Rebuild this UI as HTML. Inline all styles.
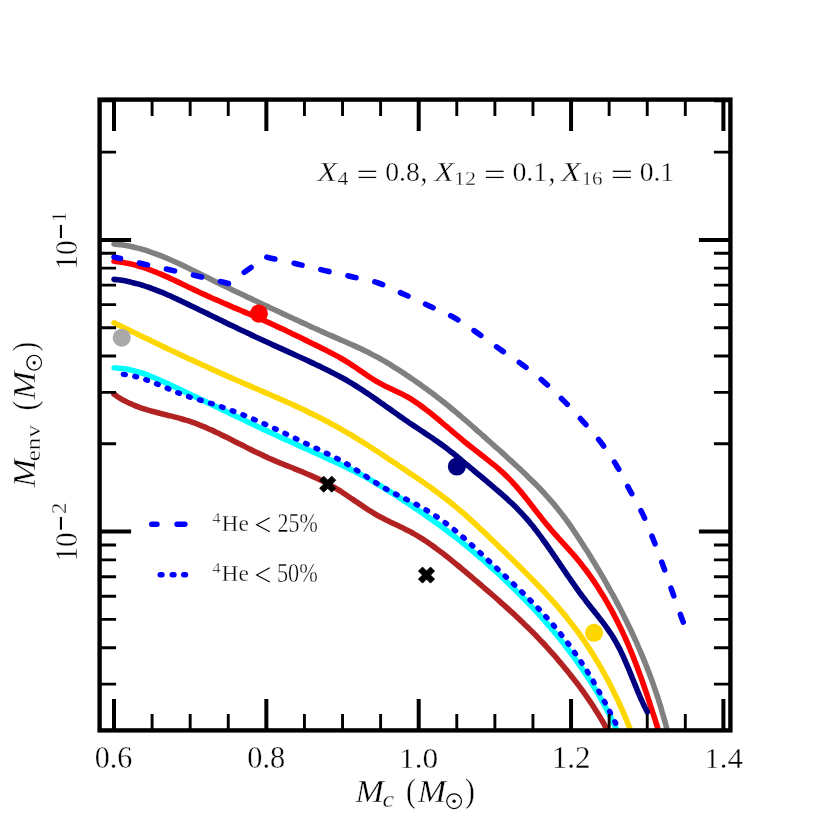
<!DOCTYPE html>
<html><head><meta charset="utf-8"><title>plot</title>
<style>html,body{margin:0;padding:0;background:#fff}body{width:830px;height:830px;position:relative;overflow:hidden;font-family:"Liberation Serif",serif}</style>
</head><body>
<svg width="830" height="830" viewBox="0 0 830 830" style="position:absolute;left:0;top:0;will-change:transform">
<defs><clipPath id="ax"><rect x="99.6" y="99.6" width="630.8" height="630.8"/></clipPath></defs>
<g clip-path="url(#ax)" fill="none" stroke-linecap="round" stroke-linejoin="round" stroke-width="5.6">
<path d="M114.0,244.0C115.0,244.1 118.0,244.4 120.0,244.6C122.0,244.9 124.0,245.2 126.0,245.5C128.0,245.9 129.9,246.3 131.9,246.7C133.9,247.1 135.8,247.6 137.7,248.1C139.7,248.6 141.6,249.1 143.6,249.7C145.5,250.3 147.4,250.9 149.3,251.6C151.2,252.2 153.2,252.9 155.1,253.6C157.0,254.3 158.9,255.0 160.7,255.7C162.6,256.5 164.5,257.2 166.4,258.0C168.3,258.8 170.1,259.6 172.0,260.5C173.9,261.3 175.7,262.1 177.6,263.0C179.5,263.9 181.3,264.7 183.2,265.6C185.0,266.5 186.9,267.4 188.7,268.3C190.5,269.2 192.4,270.1 194.2,271.0C196.1,271.9 197.9,272.8 199.7,273.8C201.5,274.7 203.4,275.6 205.2,276.5C207.0,277.4 208.8,278.3 210.7,279.2C212.5,280.1 214.3,281.0 216.1,281.9C217.9,282.8 219.7,283.7 221.6,284.6C223.4,285.5 225.2,286.4 227.0,287.3C228.8,288.1 230.6,289.0 232.4,289.9C234.2,290.8 236.1,291.6 237.9,292.5C239.7,293.4 241.5,294.2 243.3,295.1C245.1,296.0 246.9,296.8 248.7,297.7C250.6,298.5 252.4,299.4 254.2,300.3C256.0,301.1 257.8,302.0 259.6,302.8C261.5,303.7 263.3,304.5 265.1,305.4C266.9,306.2 268.8,307.1 270.6,308.0C272.4,308.8 274.3,309.7 276.1,310.5C277.9,311.4 279.8,312.2 281.6,313.1C283.5,313.9 285.3,314.8 287.2,315.7C289.0,316.5 290.9,317.4 292.7,318.2C294.6,319.1 296.4,319.9 298.3,320.8C300.2,321.7 302.0,322.5 303.9,323.4C305.7,324.2 307.6,325.1 309.5,325.9C311.3,326.8 313.2,327.6 315.1,328.5C316.9,329.3 318.8,330.1 320.7,331.0C322.5,331.8 324.4,332.6 326.2,333.5C328.1,334.3 330.0,335.1 331.8,335.9C333.7,336.8 335.5,337.6 337.4,338.4C339.2,339.2 341.1,340.0 342.9,340.8C344.8,341.6 346.6,342.4 348.4,343.2C350.3,344.0 352.1,344.8 353.9,345.6C355.8,346.5 357.6,347.3 359.4,348.1C361.2,349.0 363.0,349.8 364.8,350.7C366.6,351.6 368.4,352.4 370.2,353.4C372.0,354.3 373.8,355.2 375.6,356.2C377.4,357.1 379.1,358.1 380.9,359.1C382.7,360.1 384.4,361.1 386.2,362.1C387.9,363.2 389.7,364.2 391.4,365.3C393.1,366.4 394.8,367.5 396.6,368.6C398.3,369.7 400.0,370.8 401.7,371.9C403.4,373.0 405.1,374.1 406.8,375.3C408.5,376.4 410.2,377.6 411.8,378.7C413.5,379.9 415.2,381.0 416.8,382.2C418.5,383.3 420.1,384.5 421.8,385.7C423.4,386.9 425.1,388.0 426.7,389.2C428.3,390.4 429.9,391.6 431.6,392.8C433.2,394.0 434.8,395.2 436.4,396.5C438.0,397.7 439.6,398.9 441.2,400.2C442.8,401.4 444.3,402.7 445.9,403.9C447.5,405.2 449.1,406.5 450.6,407.7C452.2,409.0 453.8,410.3 455.3,411.6C456.9,412.9 458.4,414.2 460.0,415.5C461.5,416.9 463.1,418.2 464.6,419.5C466.1,420.8 467.7,422.2 469.2,423.5C470.7,424.8 472.3,426.2 473.8,427.5C475.3,428.9 476.9,430.2 478.4,431.6C479.9,432.9 481.4,434.3 483.0,435.6C484.5,437.0 486.0,438.3 487.5,439.7C489.0,441.1 490.6,442.4 492.1,443.8C493.6,445.1 495.1,446.5 496.6,447.8C498.1,449.2 499.7,450.6 501.2,451.9C502.7,453.3 504.2,454.6 505.7,456.0C507.2,457.4 508.7,458.7 510.2,460.1C511.7,461.5 513.2,462.8 514.7,464.2C516.2,465.6 517.7,466.9 519.2,468.3C520.6,469.7 522.1,471.1 523.6,472.5C525.0,473.9 526.5,475.3 527.9,476.7C529.4,478.1 530.8,479.5 532.2,480.9C533.7,482.3 535.1,483.7 536.5,485.1C537.9,486.6 539.3,488.0 540.7,489.5C542.0,490.9 543.4,492.4 544.8,493.8C546.1,495.3 547.5,496.8 548.8,498.3C550.1,499.8 551.5,501.3 552.8,502.8C554.1,504.3 555.4,505.9 556.6,507.4C557.9,509.0 559.2,510.6 560.4,512.2C561.7,513.8 562.9,515.4 564.1,517.0C565.3,518.6 566.5,520.3 567.7,521.9C568.9,523.6 570.0,525.2 571.2,526.9C572.4,528.6 573.5,530.3 574.7,532.0C575.8,533.7 576.9,535.4 578.0,537.1C579.2,538.8 580.3,540.5 581.4,542.2C582.5,543.9 583.6,545.6 584.7,547.4C585.8,549.1 586.9,550.8 588.0,552.5C589.1,554.3 590.1,556.0 591.2,557.7C592.3,559.5 593.3,561.2 594.4,562.9C595.4,564.7 596.5,566.4 597.5,568.2C598.6,569.9 599.6,571.7 600.7,573.4C601.7,575.2 602.7,576.9 603.7,578.7C604.7,580.4 605.7,582.2 606.7,584.0C607.7,585.7 608.7,587.5 609.7,589.3C610.7,591.0 611.7,592.8 612.7,594.6C613.6,596.4 614.6,598.2 615.6,599.9C616.5,601.7 617.5,603.5 618.4,605.3C619.3,607.1 620.3,608.9 621.2,610.7C622.1,612.5 623.0,614.3 623.9,616.1C624.9,617.9 625.7,619.7 626.6,621.5C627.5,623.3 628.4,625.2 629.3,627.0C630.2,628.8 631.0,630.6 631.9,632.5C632.7,634.3 633.6,636.1 634.4,638.0C635.3,639.8 636.1,641.6 636.9,643.5C637.7,645.3 638.5,647.2 639.3,649.0C640.1,650.9 640.9,652.7 641.7,654.6C642.5,656.5 643.3,658.3 644.0,660.2C644.8,662.1 645.5,663.9 646.3,665.8C647.0,667.7 647.8,669.6 648.5,671.5C649.2,673.4 649.9,675.2 650.6,677.1C651.3,679.0 652.0,680.9 652.7,682.8C653.4,684.8 654.1,686.7 654.7,688.6C655.4,690.5 656.0,692.4 656.7,694.3C657.3,696.3 657.9,698.2 658.6,700.1C659.2,702.1 659.8,704.0 660.4,705.9C661.0,707.9 661.6,709.8 662.1,711.8C662.7,713.7 663.3,715.7 663.8,717.7C664.4,719.6 664.9,721.6 665.5,723.6C666.0,725.5 666.7,728.5 667.0,729.5" stroke="#808080" stroke-linecap="round"/>
<path d="M114.0,261.3C115.0,261.4 118.0,261.7 119.9,261.9C121.9,262.2 123.8,262.5 125.8,262.9C127.7,263.2 129.7,263.7 131.6,264.1C133.5,264.6 135.5,265.1 137.4,265.7C139.3,266.2 141.2,266.8 143.1,267.4C145.1,268.1 147.0,268.7 148.9,269.4C150.8,270.1 152.7,270.9 154.6,271.6C156.5,272.4 158.3,273.1 160.2,273.9C162.1,274.7 164.0,275.6 165.9,276.4C167.7,277.2 169.6,278.1 171.5,279.0C173.3,279.8 175.2,280.7 177.1,281.6C178.9,282.5 180.8,283.4 182.6,284.2C184.5,285.1 186.3,286.0 188.2,286.9C190.0,287.8 191.9,288.7 193.7,289.6C195.6,290.4 197.4,291.3 199.3,292.2C201.1,293.0 202.9,293.9 204.8,294.7C206.6,295.5 208.4,296.4 210.3,297.2C212.1,298.0 213.9,298.8 215.8,299.6C217.6,300.4 219.4,301.2 221.2,302.0C223.1,302.8 224.9,303.6 226.7,304.4C228.5,305.2 230.4,306.0 232.2,306.8C234.0,307.5 235.8,308.3 237.7,309.1C239.5,309.9 241.3,310.7 243.1,311.5C245.0,312.2 246.8,313.0 248.6,313.8C250.5,314.6 252.3,315.4 254.1,316.2C255.9,317.0 257.8,317.8 259.6,318.6C261.4,319.4 263.3,320.2 265.1,321.0C266.9,321.9 268.8,322.7 270.6,323.5C272.4,324.4 274.3,325.2 276.1,326.1C278.0,326.9 279.8,327.8 281.7,328.6C283.5,329.5 285.3,330.4 287.2,331.3C289.0,332.1 290.9,333.0 292.7,333.9C294.5,334.8 296.4,335.7 298.2,336.6C300.1,337.5 301.9,338.4 303.7,339.3C305.6,340.2 307.4,341.1 309.2,342.0C311.0,342.9 312.8,343.7 314.7,344.6C316.5,345.5 318.3,346.4 320.1,347.3C321.9,348.2 323.7,349.1 325.5,350.0C327.3,350.9 329.0,351.8 330.8,352.8C332.6,353.7 334.4,354.6 336.1,355.6C337.9,356.5 339.6,357.5 341.4,358.5C343.1,359.5 344.8,360.5 346.6,361.6C348.3,362.6 350.0,363.7 351.7,364.8C353.4,365.9 355.1,367.1 356.8,368.2C358.4,369.4 360.1,370.5 361.8,371.7C363.5,372.8 365.2,374.0 366.9,375.2C368.5,376.3 370.2,377.4 371.9,378.5C373.6,379.6 375.3,380.7 377.1,381.7C378.8,382.7 380.5,383.7 382.3,384.6C384.0,385.5 385.8,386.4 387.6,387.2C389.3,388.1 391.1,388.9 392.9,389.7C394.7,390.6 396.4,391.4 398.2,392.2C400.0,393.1 401.7,393.9 403.5,394.8C405.2,395.8 406.9,396.7 408.7,397.7C410.4,398.7 412.1,399.8 413.8,400.9C415.5,402.0 417.2,403.1 418.9,404.3C420.5,405.5 422.2,406.7 423.8,408.0C425.5,409.2 427.1,410.5 428.7,411.7C430.3,413.0 431.9,414.3 433.5,415.5C435.0,416.8 436.6,418.1 438.2,419.4C439.7,420.7 441.3,422.0 442.8,423.3C444.4,424.6 445.9,425.9 447.4,427.2C449.0,428.5 450.5,429.8 452.0,431.1C453.5,432.4 455.1,433.7 456.6,435.0C458.1,436.3 459.7,437.6 461.2,438.9C462.7,440.2 464.3,441.5 465.8,442.7C467.4,444.0 469.0,445.3 470.5,446.5C472.1,447.8 473.7,449.0 475.3,450.3C476.9,451.5 478.5,452.7 480.1,454.0C481.7,455.2 483.3,456.4 484.9,457.7C486.5,458.9 488.0,460.1 489.6,461.4C491.2,462.6 492.8,463.9 494.3,465.2C495.9,466.5 497.4,467.8 498.9,469.1C500.4,470.4 501.9,471.7 503.4,473.1C504.9,474.5 506.3,475.9 507.7,477.3C509.2,478.7 510.5,480.2 511.9,481.6C513.3,483.1 514.6,484.6 516.0,486.1C517.3,487.6 518.6,489.1 519.9,490.7C521.2,492.2 522.5,493.8 523.7,495.4C525.0,496.9 526.3,498.5 527.5,500.1C528.8,501.7 530.0,503.3 531.3,504.9C532.5,506.5 533.8,508.1 535.0,509.7C536.3,511.3 537.5,512.9 538.8,514.5C540.0,516.1 541.3,517.7 542.5,519.3C543.8,520.9 545.1,522.5 546.4,524.1C547.7,525.6 549.0,527.2 550.3,528.7C551.6,530.3 552.9,531.8 554.3,533.3C555.6,534.8 557.0,536.3 558.3,537.8C559.7,539.3 561.0,540.8 562.4,542.3C563.8,543.8 565.1,545.3 566.5,546.8C567.8,548.3 569.2,549.8 570.5,551.3C571.9,552.8 573.2,554.3 574.5,555.8C575.8,557.4 577.1,558.9 578.4,560.5C579.6,562.0 580.9,563.6 582.1,565.2C583.4,566.8 584.6,568.4 585.8,570.0C587.0,571.6 588.2,573.2 589.4,574.9C590.5,576.5 591.7,578.1 592.8,579.8C594.0,581.4 595.1,583.1 596.2,584.8C597.3,586.5 598.4,588.2 599.5,589.9C600.6,591.6 601.7,593.3 602.7,595.0C603.8,596.7 604.8,598.4 605.8,600.2C606.8,601.9 607.9,603.7 608.8,605.4C609.8,607.2 610.8,608.9 611.8,610.7C612.7,612.5 613.7,614.3 614.6,616.1C615.6,617.8 616.5,619.6 617.4,621.4C618.3,623.3 619.2,625.1 620.1,626.9C621.0,628.7 621.8,630.5 622.7,632.4C623.5,634.2 624.4,636.0 625.2,637.9C626.0,639.7 626.8,641.6 627.6,643.4C628.4,645.3 629.2,647.1 630.0,649.0C630.8,650.9 631.6,652.7 632.3,654.6C633.1,656.5 633.8,658.4 634.5,660.3C635.3,662.1 636.0,664.0 636.7,665.9C637.4,667.8 638.1,669.7 638.8,671.6C639.5,673.5 640.2,675.4 640.9,677.3C641.6,679.2 642.3,681.1 642.9,683.0C643.6,684.9 644.3,686.8 644.9,688.8C645.6,690.7 646.2,692.6 646.9,694.5C647.5,696.4 648.1,698.3 648.8,700.3C649.4,702.2 650.0,704.1 650.6,706.0C651.3,707.9 651.9,709.8 652.5,711.8C653.1,713.7 653.7,715.6 654.4,717.5C655.0,719.4 655.6,721.3 656.2,723.3C656.8,725.2 657.7,728.0 658.0,729.0" stroke="#ff0000" stroke-linecap="round"/>
<path d="M114.0,279.4C115.0,279.5 118.0,279.8 120.0,280.1C122.0,280.4 124.0,280.7 126.0,281.1C128.0,281.5 129.9,281.9 131.9,282.4C133.9,282.8 135.8,283.3 137.7,283.9C139.7,284.4 141.6,285.0 143.6,285.6C145.5,286.2 147.4,286.9 149.3,287.5C151.2,288.2 153.1,288.9 155.0,289.6C156.9,290.3 158.8,291.1 160.7,291.9C162.6,292.6 164.5,293.4 166.3,294.2C168.2,295.0 170.1,295.9 171.9,296.7C173.8,297.5 175.7,298.4 177.5,299.3C179.4,300.1 181.2,301.0 183.1,301.9C184.9,302.8 186.7,303.7 188.6,304.6C190.4,305.5 192.3,306.4 194.1,307.3C195.9,308.2 197.7,309.1 199.6,310.0C201.4,310.8 203.2,311.7 205.0,312.6C206.9,313.5 208.7,314.4 210.5,315.3C212.3,316.2 214.1,317.1 215.9,317.9C217.8,318.8 219.6,319.7 221.4,320.6C223.2,321.5 225.0,322.3 226.8,323.2C228.6,324.1 230.5,325.0 232.3,325.8C234.1,326.7 235.9,327.6 237.7,328.4C239.5,329.3 241.3,330.2 243.2,331.0C245.0,331.9 246.8,332.7 248.6,333.6C250.4,334.5 252.3,335.3 254.1,336.2C255.9,337.0 257.8,337.9 259.6,338.7C261.4,339.6 263.3,340.4 265.1,341.3C266.9,342.1 268.8,343.0 270.6,343.8C272.5,344.7 274.3,345.5 276.2,346.4C278.0,347.2 279.9,348.0 281.8,348.9C283.6,349.7 285.5,350.6 287.3,351.4C289.2,352.3 291.1,353.1 292.9,353.9C294.8,354.8 296.6,355.6 298.5,356.5C300.4,357.3 302.2,358.2 304.1,359.0C305.9,359.9 307.8,360.7 309.6,361.6C311.5,362.5 313.3,363.3 315.2,364.2C317.0,365.1 318.8,365.9 320.7,366.8C322.5,367.7 324.3,368.6 326.1,369.5C327.9,370.4 329.7,371.3 331.5,372.2C333.3,373.1 335.1,374.0 336.9,375.0C338.7,375.9 340.5,376.9 342.2,377.8C344.0,378.8 345.7,379.8 347.5,380.8C349.2,381.8 351.0,382.9 352.7,383.9C354.4,385.0 356.1,386.0 357.8,387.1C359.5,388.2 361.2,389.3 362.9,390.4C364.6,391.5 366.2,392.6 367.9,393.7C369.6,394.9 371.3,396.0 372.9,397.2C374.6,398.3 376.2,399.5 377.9,400.6C379.6,401.8 381.2,403.0 382.9,404.1C384.5,405.3 386.2,406.5 387.8,407.7C389.5,408.8 391.1,410.0 392.8,411.2C394.5,412.4 396.1,413.6 397.8,414.7C399.4,415.9 401.1,417.1 402.8,418.2C404.5,419.4 406.1,420.6 407.8,421.7C409.5,422.9 411.2,424.0 412.9,425.1C414.6,426.3 416.3,427.4 418.0,428.5C419.7,429.7 421.4,430.8 423.1,431.9C424.8,433.1 426.5,434.2 428.2,435.3C429.9,436.5 431.6,437.6 433.3,438.7C434.9,439.9 436.6,441.0 438.3,442.2C439.9,443.4 441.5,444.5 443.2,445.7C444.8,446.9 446.4,448.1 448.0,449.3C449.6,450.6 451.2,451.8 452.7,453.0C454.3,454.3 455.8,455.5 457.4,456.8C458.9,458.1 460.5,459.3 462.0,460.6C463.6,461.9 465.1,463.2 466.6,464.5C468.2,465.8 469.7,467.1 471.2,468.4C472.8,469.7 474.3,471.0 475.9,472.3C477.4,473.6 479.0,474.9 480.6,476.2C482.1,477.5 483.7,478.8 485.3,480.1C486.9,481.4 488.4,482.8 490.0,484.1C491.6,485.4 493.1,486.7 494.7,488.1C496.3,489.4 497.8,490.7 499.4,492.1C500.9,493.4 502.5,494.8 504.0,496.1C505.5,497.5 507.0,498.9 508.5,500.3C510.0,501.6 511.5,503.0 513.0,504.4C514.4,505.8 515.9,507.2 517.3,508.7C518.7,510.1 520.1,511.6 521.5,513.1C522.8,514.5 524.2,516.0 525.5,517.5C526.9,519.0 528.2,520.6 529.5,522.1C530.7,523.7 532.0,525.2 533.3,526.8C534.5,528.4 535.7,530.0 537.0,531.6C538.2,533.2 539.4,534.8 540.6,536.4C541.8,538.0 543.0,539.7 544.1,541.3C545.3,542.9 546.5,544.6 547.6,546.2C548.8,547.9 549.9,549.5 551.1,551.2C552.2,552.9 553.4,554.5 554.5,556.2C555.7,557.9 556.8,559.5 557.9,561.2C559.1,562.9 560.2,564.5 561.3,566.2C562.5,567.9 563.6,569.5 564.7,571.2C565.9,572.9 567.0,574.6 568.2,576.2C569.3,577.9 570.5,579.5 571.6,581.2C572.8,582.9 573.9,584.5 575.1,586.2C576.3,587.8 577.5,589.5 578.6,591.1C579.8,592.8 581.0,594.4 582.2,596.0C583.5,597.6 584.7,599.3 585.9,600.9C587.2,602.5 588.4,604.1 589.7,605.7C590.9,607.3 592.2,608.9 593.5,610.5C594.7,612.1 596.0,613.6 597.3,615.2C598.5,616.8 599.8,618.4 601.0,620.0C602.3,621.6 603.5,623.3 604.7,624.9C605.9,626.5 607.1,628.2 608.2,629.8C609.4,631.5 610.5,633.1 611.6,634.8C612.7,636.5 613.7,638.2 614.8,640.0C615.8,641.7 616.7,643.5 617.7,645.2C618.6,647.0 619.6,648.8 620.5,650.6C621.3,652.4 622.2,654.3 623.1,656.1C623.9,657.9 624.7,659.8 625.5,661.6C626.3,663.5 627.1,665.4 627.9,667.2C628.7,669.1 629.5,671.0 630.2,672.9C631.0,674.7 631.8,676.6 632.5,678.5C633.3,680.4 634.1,682.3 634.8,684.2C635.6,686.1 636.4,688.0 637.1,689.8C637.9,691.7 638.7,693.6 639.5,695.5C640.3,697.3 641.1,699.2 642.0,701.0C642.8,702.9 643.7,704.7 644.6,706.6C645.5,708.4 646.9,711.1 647.3,712.0" stroke="#000080" stroke-linecap="round"/>
<path d="M114.0,322.8C114.9,323.2 117.6,324.6 119.4,325.4C121.2,326.3 123.0,327.2 124.8,328.1C126.6,328.9 128.4,329.8 130.2,330.7C132.0,331.6 133.8,332.5 135.6,333.3C137.4,334.2 139.3,335.1 141.1,336.0C142.9,336.9 144.7,337.8 146.6,338.6C148.4,339.5 150.2,340.4 152.1,341.3C153.9,342.2 155.7,343.0 157.6,343.9C159.4,344.8 161.3,345.7 163.1,346.6C164.9,347.4 166.8,348.3 168.6,349.2C170.5,350.1 172.3,350.9 174.2,351.8C176.0,352.7 177.9,353.6 179.8,354.4C181.6,355.3 183.5,356.2 185.3,357.0C187.2,357.9 189.0,358.8 190.9,359.6C192.8,360.5 194.6,361.4 196.5,362.2C198.4,363.1 200.2,363.9 202.1,364.8C204.0,365.6 205.8,366.5 207.7,367.3C209.6,368.2 211.4,369.0 213.3,369.9C215.2,370.7 217.0,371.6 218.9,372.4C220.8,373.2 222.6,374.1 224.5,374.9C226.4,375.7 228.2,376.5 230.1,377.4C232.0,378.2 233.8,379.0 235.7,379.8C237.6,380.6 239.4,381.4 241.3,382.2C243.2,383.0 245.0,383.9 246.9,384.7C248.8,385.5 250.6,386.3 252.5,387.1C254.3,387.9 256.2,388.7 258.1,389.5C259.9,390.3 261.8,391.1 263.6,391.9C265.5,392.7 267.3,393.5 269.2,394.3C271.0,395.1 272.9,395.9 274.7,396.7C276.6,397.5 278.4,398.3 280.3,399.1C282.1,399.9 284.0,400.7 285.8,401.6C287.6,402.4 289.5,403.2 291.3,404.0C293.2,404.9 295.0,405.7 296.8,406.6C298.6,407.4 300.5,408.2 302.3,409.1C304.1,410.0 305.9,410.8 307.7,411.7C309.6,412.6 311.4,413.5 313.2,414.4C315.0,415.2 316.8,416.1 318.6,417.1C320.4,418.0 322.2,418.9 324.0,419.8C325.8,420.8 327.6,421.7 329.4,422.7C331.1,423.6 332.9,424.6 334.7,425.6C336.5,426.5 338.2,427.5 340.0,428.5C341.8,429.5 343.5,430.6 345.3,431.6C347.1,432.6 348.8,433.6 350.6,434.7C352.3,435.7 354.1,436.8 355.8,437.8C357.6,438.9 359.3,440.0 361.0,441.0C362.8,442.1 364.5,443.2 366.2,444.3C368.0,445.4 369.7,446.5 371.4,447.6C373.1,448.7 374.9,449.8 376.6,451.0C378.3,452.1 380.0,453.2 381.7,454.3C383.4,455.5 385.1,456.6 386.8,457.7C388.5,458.9 390.2,460.0 391.9,461.1C393.6,462.2 395.3,463.4 397.0,464.5C398.7,465.6 400.4,466.8 402.1,467.9C403.8,469.0 405.5,470.1 407.1,471.3C408.8,472.4 410.5,473.5 412.2,474.7C413.8,475.8 415.5,476.9 417.2,478.1C418.8,479.2 420.5,480.4 422.1,481.5C423.8,482.7 425.4,483.8 427.1,485.0C428.7,486.1 430.4,487.3 432.0,488.5C433.6,489.7 435.2,490.8 436.9,492.0C438.5,493.2 440.1,494.4 441.7,495.7C443.3,496.9 444.9,498.1 446.5,499.3C448.1,500.6 449.6,501.8 451.2,503.1C452.8,504.4 454.3,505.6 455.9,506.9C457.5,508.2 459.0,509.5 460.6,510.9C462.1,512.2 463.6,513.5 465.2,514.9C466.7,516.2 468.2,517.6 469.7,518.9C471.2,520.3 472.7,521.7 474.3,523.1C475.8,524.4 477.3,525.8 478.7,527.2C480.2,528.6 481.7,530.0 483.2,531.4C484.7,532.8 486.2,534.2 487.7,535.6C489.1,537.1 490.6,538.5 492.1,539.9C493.6,541.3 495.0,542.7 496.5,544.1C498.0,545.5 499.4,546.9 500.9,548.4C502.4,549.8 503.8,551.2 505.3,552.6C506.7,554.0 508.2,555.4 509.6,556.9C511.1,558.3 512.5,559.7 514.0,561.1C515.4,562.6 516.9,564.0 518.3,565.4C519.8,566.8 521.2,568.3 522.6,569.7C524.1,571.1 525.5,572.6 526.9,574.0C528.4,575.4 529.8,576.9 531.2,578.3C532.6,579.8 534.1,581.2 535.5,582.7C536.9,584.1 538.3,585.6 539.7,587.1C541.1,588.5 542.5,590.0 543.9,591.5C545.3,592.9 546.6,594.4 548.0,595.9C549.4,597.4 550.7,598.9 552.1,600.4C553.4,601.9 554.8,603.4 556.1,604.9C557.5,606.5 558.8,608.0 560.1,609.5C561.4,611.1 562.7,612.6 564.0,614.2C565.3,615.7 566.6,617.3 567.8,618.9C569.1,620.5 570.4,622.1 571.6,623.7C572.8,625.3 574.1,626.9 575.3,628.5C576.5,630.1 577.7,631.8 578.9,633.4C580.1,635.1 581.3,636.7 582.4,638.4C583.6,640.1 584.7,641.7 585.9,643.4C587.0,645.1 588.1,646.8 589.2,648.5C590.3,650.2 591.4,651.9 592.5,653.7C593.6,655.4 594.7,657.1 595.7,658.9C596.8,660.6 597.8,662.4 598.8,664.1C599.9,665.9 600.9,667.6 601.9,669.4C602.9,671.2 603.9,673.0 604.9,674.8C605.8,676.5 606.8,678.3 607.8,680.1C608.7,681.9 609.7,683.8 610.6,685.6C611.5,687.4 612.4,689.2 613.3,691.0C614.2,692.8 615.1,694.7 616.0,696.5C616.9,698.4 617.8,700.2 618.6,702.0C619.5,703.9 620.3,705.7 621.1,707.6C622.0,709.4 622.8,711.3 623.6,713.2C624.4,715.0 625.2,716.9 626.0,718.8C626.7,720.6 627.5,722.5 628.3,724.4C629.0,726.2 630.1,729.1 630.5,730.0" stroke="#ffd700" stroke-linecap="round"/>
<path d="M114.1,367.8C115.0,367.9 118.0,368.1 120.0,368.3C121.9,368.5 123.9,368.8 125.8,369.1C127.8,369.4 129.7,369.8 131.6,370.3C133.6,370.7 135.5,371.2 137.4,371.8C139.3,372.3 141.2,372.9 143.1,373.5C145.0,374.2 146.9,374.8 148.8,375.6C150.7,376.3 152.6,377.0 154.5,377.8C156.4,378.6 158.2,379.4 160.1,380.2C162.0,381.1 163.8,381.9 165.7,382.8C167.6,383.6 169.4,384.5 171.3,385.4C173.1,386.3 175.0,387.1 176.8,388.0C178.7,388.9 180.5,389.8 182.3,390.6C184.2,391.5 186.0,392.4 187.8,393.3C189.7,394.1 191.5,395.0 193.3,395.9C195.2,396.7 197.0,397.6 198.8,398.5C200.7,399.4 202.5,400.2 204.3,401.1C206.1,402.0 208.0,402.9 209.8,403.7C211.6,404.6 213.4,405.5 215.3,406.3C217.1,407.2 218.9,408.1 220.7,409.0C222.5,409.8 224.4,410.7 226.2,411.6C228.0,412.5 229.9,413.3 231.7,414.2C233.5,415.1 235.3,416.0 237.2,416.8C239.0,417.7 240.8,418.6 242.7,419.4C244.5,420.3 246.3,421.2 248.2,422.1C250.0,422.9 251.9,423.8 253.7,424.7C255.5,425.5 257.4,426.4 259.2,427.3C261.0,428.2 262.9,429.0 264.7,429.9C266.6,430.7 268.4,431.6 270.2,432.5C272.1,433.3 273.9,434.2 275.8,435.0C277.6,435.9 279.4,436.7 281.3,437.6C283.1,438.4 285.0,439.3 286.8,440.1C288.6,441.0 290.5,441.8 292.3,442.6C294.1,443.5 296.0,444.3 297.8,445.1C299.7,446.0 301.5,446.8 303.3,447.6C305.1,448.4 307.0,449.2 308.8,450.0C310.6,450.9 312.5,451.7 314.3,452.5C316.1,453.3 317.9,454.1 319.7,454.9C321.6,455.7 323.4,456.6 325.2,457.4C327.0,458.2 328.8,459.0 330.6,459.9C332.4,460.7 334.3,461.5 336.1,462.4C337.9,463.2 339.7,464.0 341.5,464.9C343.3,465.8 345.1,466.6 346.9,467.5C348.6,468.4 350.4,469.3 352.2,470.2C354.0,471.1 355.8,472.0 357.6,472.9C359.3,473.8 361.1,474.8 362.9,475.7C364.6,476.7 366.4,477.7 368.2,478.6C369.9,479.6 371.7,480.6 373.4,481.7C375.2,482.7 376.9,483.7 378.7,484.7C380.4,485.8 382.2,486.8 383.9,487.9C385.6,489.0 387.4,490.0 389.1,491.1C390.8,492.2 392.5,493.3 394.2,494.4C396.0,495.5 397.7,496.6 399.4,497.7C401.1,498.8 402.8,499.9 404.5,501.1C406.2,502.2 407.9,503.3 409.6,504.4C411.3,505.6 412.9,506.7 414.6,507.8C416.3,508.9 418.0,510.1 419.6,511.2C421.3,512.3 423.0,513.5 424.6,514.6C426.3,515.8 427.9,516.9 429.6,518.1C431.2,519.2 432.9,520.4 434.5,521.6C436.2,522.8 437.8,523.9 439.4,525.1C441.0,526.3 442.7,527.5 444.3,528.7C445.9,529.9 447.5,531.1 449.1,532.4C450.7,533.6 452.3,534.8 453.9,536.0C455.5,537.3 457.1,538.5 458.7,539.8C460.3,541.0 461.9,542.3 463.4,543.6C465.0,544.8 466.6,546.1 468.2,547.4C469.7,548.7 471.3,550.0 472.8,551.3C474.4,552.6 475.9,553.9 477.5,555.2C479.0,556.5 480.5,557.9 482.1,559.2C483.6,560.5 485.1,561.8 486.6,563.2C488.2,564.5 489.7,565.9 491.2,567.2C492.7,568.6 494.2,569.9 495.7,571.3C497.2,572.7 498.7,574.1 500.2,575.4C501.6,576.8 503.1,578.2 504.6,579.6C506.1,581.0 507.5,582.4 509.0,583.8C510.4,585.2 511.9,586.6 513.3,588.0C514.8,589.4 516.2,590.8 517.7,592.3C519.1,593.7 520.5,595.1 521.9,596.6C523.4,598.0 524.8,599.4 526.2,600.9C527.6,602.3 529.0,603.8 530.4,605.3C531.7,606.7 533.1,608.2 534.5,609.7C535.9,611.2 537.2,612.6 538.6,614.1C540.0,615.6 541.3,617.1 542.6,618.6C544.0,620.1 545.3,621.6 546.6,623.1C548.0,624.7 549.3,626.2 550.6,627.7C551.9,629.2 553.2,630.8 554.5,632.3C555.8,633.9 557.1,635.4 558.3,637.0C559.6,638.5 560.9,640.1 562.1,641.7C563.4,643.2 564.6,644.8 565.8,646.4C567.1,648.0 568.3,649.6 569.5,651.2C570.7,652.8 571.9,654.4 573.1,656.0C574.3,657.7 575.5,659.3 576.6,660.9C577.8,662.6 579.0,664.2 580.1,665.9C581.3,667.5 582.4,669.2 583.5,670.8C584.7,672.5 585.8,674.2 586.9,675.9C588.0,677.5 589.1,679.2 590.2,680.9C591.2,682.6 592.3,684.3 593.4,686.1C594.4,687.8 595.5,689.5 596.5,691.2C597.5,693.0 598.6,694.7 599.6,696.5C600.6,698.2 601.6,700.0 602.6,701.8C603.5,703.5 604.5,705.3 605.5,707.1C606.4,708.9 607.4,710.7 608.3,712.5C609.2,714.3 610.1,716.1 611.0,717.9C612.0,719.8 612.8,721.6 613.7,723.4C614.6,725.3 615.9,728.1 616.3,729.0" stroke="#00ffff" stroke-linecap="round"/>
<path d="M114.0,394.2C114.9,394.8 117.5,396.7 119.3,397.8C121.1,398.9 122.9,399.9 124.8,400.9C126.6,401.9 128.4,402.8 130.3,403.6C132.1,404.5 134.0,405.3 135.9,406.0C137.7,406.7 139.6,407.4 141.5,408.1C143.4,408.7 145.3,409.3 147.2,409.9C149.1,410.5 151.0,411.0 153.0,411.5C154.9,412.0 156.8,412.5 158.7,413.0C160.7,413.5 162.6,414.0 164.5,414.5C166.5,415.0 168.4,415.4 170.4,415.9C172.3,416.4 174.2,416.9 176.2,417.4C178.1,417.9 180.1,418.4 182.0,419.0C183.9,419.6 185.9,420.1 187.8,420.7C189.7,421.4 191.6,422.0 193.6,422.7C195.5,423.4 197.4,424.1 199.3,424.9C201.2,425.6 203.1,426.4 205.0,427.2C206.9,428.0 208.7,428.9 210.6,429.7C212.5,430.5 214.3,431.4 216.2,432.3C218.0,433.1 219.9,434.0 221.7,434.9C223.6,435.8 225.4,436.7 227.2,437.6C229.1,438.5 230.9,439.5 232.7,440.4C234.6,441.3 236.4,442.2 238.2,443.2C240.0,444.1 241.8,445.0 243.7,445.9C245.5,446.9 247.3,447.8 249.1,448.7C251.0,449.6 252.8,450.5 254.6,451.4C256.4,452.3 258.3,453.2 260.1,454.1C261.9,455.0 263.8,455.8 265.6,456.7C267.5,457.5 269.3,458.4 271.2,459.2C273.1,460.0 274.9,460.8 276.8,461.6C278.7,462.3 280.5,463.1 282.4,463.9C284.3,464.6 286.2,465.4 288.1,466.2C289.9,466.9 291.8,467.7 293.7,468.4C295.6,469.2 297.5,469.9 299.3,470.7C301.2,471.4 303.1,472.2 304.9,473.0C306.8,473.8 308.6,474.6 310.5,475.4C312.3,476.2 314.1,477.0 316.0,477.9C317.8,478.7 319.6,479.6 321.4,480.5C323.2,481.4 325.0,482.3 326.8,483.2C328.6,484.2 330.3,485.1 332.1,486.1C333.8,487.2 335.6,488.2 337.3,489.3C339.1,490.3 340.8,491.4 342.5,492.5C344.2,493.7 346.0,494.8 347.7,496.0C349.4,497.1 351.1,498.3 352.8,499.4C354.5,500.6 356.3,501.8 358.0,502.9C359.7,504.1 361.4,505.3 363.1,506.4C364.9,507.6 366.6,508.7 368.3,509.8C370.1,510.9 371.8,512.0 373.6,513.1C375.4,514.2 377.1,515.2 378.9,516.2C380.7,517.2 382.5,518.1 384.2,519.0C386.0,520.0 387.8,520.8 389.6,521.7C391.4,522.6 393.2,523.4 395.0,524.2C396.8,525.1 398.6,525.9 400.4,526.8C402.2,527.6 403.9,528.5 405.7,529.4C407.5,530.3 409.2,531.2 411.0,532.1C412.7,533.1 414.5,534.1 416.2,535.1C417.9,536.1 419.6,537.2 421.3,538.2C423.0,539.3 424.7,540.4 426.4,541.5C428.1,542.7 429.7,543.8 431.4,545.0C433.1,546.2 434.7,547.3 436.4,548.6C438.0,549.8 439.6,551.0 441.3,552.2C442.9,553.5 444.5,554.8 446.1,556.0C447.8,557.3 449.4,558.6 451.0,559.9C452.6,561.2 454.2,562.5 455.8,563.8C457.4,565.1 458.9,566.4 460.5,567.7C462.1,569.1 463.7,570.4 465.3,571.7C466.8,573.0 468.4,574.4 470.0,575.7C471.5,577.0 473.1,578.3 474.6,579.7C476.2,581.0 477.8,582.3 479.3,583.6C480.9,584.9 482.4,586.3 483.9,587.6C485.5,588.9 487.0,590.2 488.6,591.6C490.1,592.9 491.6,594.2 493.1,595.5C494.7,596.9 496.2,598.2 497.7,599.5C499.2,600.9 500.7,602.2 502.2,603.6C503.7,604.9 505.2,606.2 506.7,607.6C508.2,609.0 509.7,610.3 511.2,611.7C512.7,613.0 514.2,614.4 515.6,615.8C517.1,617.2 518.6,618.6 520.1,620.0C521.5,621.4 523.0,622.8 524.4,624.2C525.9,625.6 527.3,627.0 528.8,628.4C530.2,629.9 531.7,631.3 533.1,632.7C534.5,634.2 535.9,635.7 537.4,637.1C538.8,638.6 540.2,640.1 541.6,641.6C543.0,643.0 544.4,644.5 545.8,646.0C547.1,647.5 548.5,649.0 549.9,650.6C551.3,652.1 552.6,653.6 554.0,655.1C555.3,656.7 556.7,658.2 558.0,659.8C559.3,661.3 560.7,662.9 562.0,664.5C563.3,666.0 564.6,667.6 565.9,669.2C567.2,670.8 568.5,672.3 569.7,673.9C571.0,675.5 572.3,677.1 573.5,678.7C574.8,680.3 576.0,682.0 577.2,683.6C578.5,685.2 579.7,686.8 580.9,688.5C582.1,690.1 583.3,691.7 584.4,693.4C585.6,695.0 586.8,696.7 587.9,698.3C589.1,700.0 590.2,701.7 591.3,703.3C592.4,705.0 593.6,706.7 594.6,708.4C595.7,710.1 596.8,711.8 597.9,713.6C598.9,715.3 600.0,717.0 601.0,718.8C602.0,720.5 603.1,722.3 604.1,724.1C605.1,725.9 606.5,728.6 607.0,729.5" stroke="#b22222" stroke-linecap="round"/>
<path d="M114.0,257.0L143.4,264.0L170.6,270.0L197.3,276.0L228.5,283.5L247.5,270.0L266.0,256.8C266.8,257.0 265.7,257.0 271.0,258.2C276.3,259.4 289.0,262.1 298.0,264.2C307.0,266.3 315.8,268.5 324.8,270.6C333.8,272.7 342.9,274.6 351.8,276.7C360.7,278.8 369.6,280.1 378.3,283.0C387.0,285.9 395.6,290.5 404.1,294.3C412.6,298.1 420.9,302.0 429.2,305.9C437.5,309.8 446.0,313.0 454.0,317.5C462.0,322.0 469.6,327.6 477.3,332.9C485.0,338.2 492.5,344.0 500.0,349.3C507.5,354.6 515.1,359.3 522.4,364.7C529.7,370.1 536.9,375.7 543.9,381.8C550.9,387.9 557.6,394.6 564.1,401.1C570.6,407.7 576.6,414.2 582.7,421.1C588.9,428.0 595.4,435.1 601.0,442.5C606.6,449.9 611.7,457.4 616.4,465.2C621.1,473.0 625.0,481.4 629.4,489.5C633.8,497.6 638.6,505.6 642.6,513.9C646.6,522.2 649.9,530.9 653.3,539.5C656.7,548.1 659.9,557.0 663.1,565.7C666.3,574.4 669.2,583.1 672.3,591.7C675.3,600.3 679.4,611.7 681.4,617.2C683.4,622.7 683.7,623.4 684.2,624.6" stroke="#0000ff" stroke-width="5.56" stroke-dasharray="8.33 19.36" stroke-dashoffset="1.6"/>
<path d="M122.9,374.3C123.9,374.4 126.8,374.7 128.7,375.1C130.6,375.4 132.5,375.8 134.4,376.3C136.3,376.7 138.3,377.3 140.2,377.9C142.1,378.4 144.0,379.1 145.9,379.8C147.8,380.4 149.7,381.2 151.7,381.9C153.6,382.6 155.5,383.4 157.4,384.2C159.3,385.0 161.2,385.8 163.1,386.6C165.1,387.4 167.0,388.2 168.9,389.0C170.8,389.8 172.7,390.7 174.6,391.4C176.5,392.2 178.4,393.0 180.4,393.7C182.3,394.5 184.2,395.2 186.1,395.8C188.0,396.5 189.9,397.1 191.8,397.7C193.7,398.3 195.6,398.8 197.5,399.4C199.4,399.9 201.3,400.4 203.2,401.0C205.1,401.6 207.0,402.1 208.9,402.7C210.8,403.3 212.7,403.9 214.6,404.5C216.5,405.2 218.4,405.8 220.3,406.4C222.2,407.1 224.1,407.8 226.0,408.4C227.8,409.1 229.7,409.8 231.6,410.5C233.5,411.2 235.4,411.9 237.3,412.6C239.1,413.3 241.0,414.1 242.9,414.8C244.8,415.6 246.6,416.3 248.5,417.1C250.4,417.9 252.2,418.6 254.1,419.4C256.0,420.2 257.8,421.0 259.7,421.8C261.5,422.6 263.4,423.4 265.3,424.3C267.1,425.1 269.0,425.9 270.8,426.8C272.7,427.6 274.5,428.4 276.3,429.3C278.2,430.2 280.0,431.0 281.9,431.9C283.7,432.8 285.5,433.6 287.4,434.5C289.2,435.4 291.0,436.3 292.8,437.1C294.7,438.0 296.5,438.9 298.3,439.8C300.1,440.7 301.9,441.5 303.7,442.4C305.5,443.3 307.4,444.2 309.2,445.0C311.0,445.9 312.8,446.8 314.6,447.6C316.4,448.5 318.2,449.3 319.9,450.2C321.7,451.0 323.5,451.9 325.3,452.7C327.1,453.6 328.9,454.4 330.7,455.3C332.4,456.2 334.2,457.1 336.0,458.0C337.8,458.9 339.5,459.8 341.3,460.8C343.1,461.8 344.8,462.7 346.6,463.8C348.4,464.8 350.1,465.9 351.9,467.0C353.6,468.2 355.4,469.3 357.1,470.5C358.9,471.6 360.6,472.8 362.4,474.0C364.1,475.2 365.9,476.3 367.6,477.5C369.3,478.6 371.1,479.8 372.8,480.9C374.6,482.0 376.3,483.1 378.0,484.2C379.8,485.3 381.5,486.3 383.2,487.4C385.0,488.4 386.7,489.3 388.4,490.3C390.2,491.2 391.9,492.1 393.6,493.0C395.4,493.9 397.1,494.8 398.8,495.6C400.6,496.5 402.3,497.3 404.1,498.2C405.8,499.0 407.5,499.9 409.3,500.7C411.0,501.6 412.7,502.5 414.5,503.4C416.2,504.3 418.0,505.3 419.7,506.2C421.4,507.2 423.2,508.2 424.9,509.3C426.7,510.3 428.4,511.4 430.1,512.5C431.9,513.6 433.6,514.7 435.3,515.8C437.0,517.0 438.7,518.1 440.4,519.3C442.1,520.5 443.8,521.7 445.5,523.0C447.1,524.2 448.8,525.5 450.4,526.7C452.0,528.0 453.6,529.3 455.2,530.6C456.8,531.9 458.4,533.2 459.9,534.5C461.5,535.8 463.0,537.2 464.6,538.5C466.1,539.8 467.6,541.2 469.1,542.5C470.6,543.9 472.1,545.3 473.5,546.6C475.0,548.0 476.5,549.3 478.0,550.7C479.4,552.1 480.9,553.4 482.4,554.8C483.8,556.2 485.3,557.5 486.7,558.9C488.2,560.3 489.7,561.6 491.1,563.0C492.6,564.3 494.1,565.7 495.5,567.1C497.0,568.4 498.5,569.8 499.9,571.2C501.4,572.5 502.8,573.9 504.3,575.3C505.8,576.6 507.2,578.0 508.7,579.4C510.2,580.8 511.6,582.1 513.1,583.5C514.5,584.9 516.0,586.3 517.5,587.7C518.9,589.1 520.4,590.5 521.9,591.9C523.3,593.3 524.8,594.7 526.2,596.2C527.7,597.6 529.1,599.0 530.5,600.5C532.0,601.9 533.4,603.3 534.8,604.8C536.3,606.3 537.7,607.7 539.1,609.2C540.5,610.7 541.8,612.2 543.2,613.7C544.6,615.2 546.0,616.7 547.3,618.2C548.7,619.7 550.0,621.2 551.3,622.7C552.6,624.3 554.0,625.8 555.3,627.4C556.6,628.9 557.9,630.5 559.1,632.1C560.4,633.6 561.7,635.2 562.9,636.8C564.2,638.4 565.4,640.0 566.6,641.6C567.9,643.2 569.1,644.8 570.3,646.5C571.5,648.1 572.7,649.7 573.8,651.4C575.0,653.0 576.2,654.6 577.3,656.3C578.4,658.0 579.6,659.6 580.7,661.3C581.8,663.0 582.9,664.7 584.0,666.3C585.1,668.0 586.2,669.7 587.3,671.4C588.3,673.1 589.4,674.8 590.4,676.6C591.4,678.3 592.5,680.0 593.5,681.7C594.5,683.5 595.5,685.2 596.5,687.0C597.5,688.7 598.5,690.5 599.4,692.2C600.4,694.0 601.4,695.7 602.3,697.5C603.3,699.3 604.2,701.1 605.2,702.8C606.1,704.6 607.1,706.4 608.0,708.2C608.9,710.0 609.8,711.8 610.8,713.6C611.7,715.4 612.6,717.2 613.5,719.0C614.4,720.9 615.4,722.7 616.3,724.5C617.2,726.3 618.5,729.1 619.0,730.0" stroke="#0000ff" stroke-width="5.4" stroke-dasharray="1.8 9.68" stroke-dashoffset="-0.65"/>
</g>
<circle cx="258.9" cy="313.6" r="9.05" fill="#ff0000"/>
<circle cx="121.7" cy="337.7" r="9.05" fill="#a9a9a9"/>
<circle cx="456.9" cy="466.5" r="9.05" fill="#000080"/>
<circle cx="594.0" cy="632.8" r="9.05" fill="#ffd700"/>
<polygon points="319.7,480.2 323.7,476.2 327.7,480.2 331.7,476.2 335.7,480.2 331.7,484.2 335.7,488.2 331.7,492.2 327.7,488.2 323.7,492.2 319.7,488.2 323.7,484.2" fill="#000" stroke="#000" stroke-width="1" stroke-linejoin="miter"/>
<polygon points="418.5,571.1 422.5,567.1 426.5,571.1 430.5,567.1 434.5,571.1 430.5,575.1 434.5,579.1 430.5,583.1 426.5,579.1 422.5,583.1 418.5,579.1 422.5,575.1" fill="#000" stroke="#000" stroke-width="1" stroke-linejoin="miter"/>
<g stroke="#000" fill="none" stroke-linecap="butt">
<path d="M114.00,99.6v31.5M114.00,730.4v-31.5" stroke-width="4.0"/>
<path d="M152.09,99.6v16.5M152.09,730.4v-16.5" stroke-width="2.9"/>
<path d="M190.17,99.6v16.5M190.17,730.4v-16.5" stroke-width="2.9"/>
<path d="M228.26,99.6v16.5M228.26,730.4v-16.5" stroke-width="2.9"/>
<path d="M266.35,99.6v31.5M266.35,730.4v-31.5" stroke-width="4.0"/>
<path d="M304.44,99.6v16.5M304.44,730.4v-16.5" stroke-width="2.9"/>
<path d="M342.53,99.6v16.5M342.53,730.4v-16.5" stroke-width="2.9"/>
<path d="M380.61,99.6v16.5M380.61,730.4v-16.5" stroke-width="2.9"/>
<path d="M418.70,99.6v31.5M418.70,730.4v-31.5" stroke-width="4.0"/>
<path d="M456.79,99.6v16.5M456.79,730.4v-16.5" stroke-width="2.9"/>
<path d="M494.88,99.6v16.5M494.88,730.4v-16.5" stroke-width="2.9"/>
<path d="M532.96,99.6v16.5M532.96,730.4v-16.5" stroke-width="2.9"/>
<path d="M571.05,99.6v31.5M571.05,730.4v-31.5" stroke-width="4.0"/>
<path d="M609.14,99.6v16.5M609.14,730.4v-16.5" stroke-width="2.9"/>
<path d="M647.23,99.6v16.5M647.23,730.4v-16.5" stroke-width="2.9"/>
<path d="M685.31,99.6v16.5M685.31,730.4v-16.5" stroke-width="2.9"/>
<path d="M723.40,99.6v31.5M723.40,730.4v-31.5" stroke-width="4.0"/>
<path d="M99.6,684.12h16.5M730.4,684.12h-16.5" stroke-width="2.9"/>
<path d="M99.6,647.68h16.5M730.4,647.68h-16.5" stroke-width="2.9"/>
<path d="M99.6,619.41h16.5M730.4,619.41h-16.5" stroke-width="2.9"/>
<path d="M99.6,596.31h16.5M730.4,596.31h-16.5" stroke-width="2.9"/>
<path d="M99.6,576.78h16.5M730.4,576.78h-16.5" stroke-width="2.9"/>
<path d="M99.6,559.87h16.5M730.4,559.87h-16.5" stroke-width="2.9"/>
<path d="M99.6,544.95h16.5M730.4,544.95h-16.5" stroke-width="2.9"/>
<path d="M99.6,531.60h31.5M730.4,531.60h-31.5" stroke-width="4.0"/>
<path d="M99.6,443.79h16.5M730.4,443.79h-16.5" stroke-width="2.9"/>
<path d="M99.6,392.42h16.5M730.4,392.42h-16.5" stroke-width="2.9"/>
<path d="M99.6,355.98h16.5M730.4,355.98h-16.5" stroke-width="2.9"/>
<path d="M99.6,327.71h16.5M730.4,327.71h-16.5" stroke-width="2.9"/>
<path d="M99.6,304.61h16.5M730.4,304.61h-16.5" stroke-width="2.9"/>
<path d="M99.6,285.08h16.5M730.4,285.08h-16.5" stroke-width="2.9"/>
<path d="M99.6,268.17h16.5M730.4,268.17h-16.5" stroke-width="2.9"/>
<path d="M99.6,253.25h16.5M730.4,253.25h-16.5" stroke-width="2.9"/>
<path d="M99.6,239.90h31.5M730.4,239.90h-31.5" stroke-width="4.0"/>
<path d="M99.6,152.09h16.5M730.4,152.09h-16.5" stroke-width="2.9"/>
<path d="M99.6,100.72h16.5M730.4,100.72h-16.5" stroke-width="2.9"/>
<rect x="99.6" y="99.6" width="630.8" height="630.8" stroke-width="4.4" stroke-linejoin="miter"/>
</g>
<g fill="none" stroke="#0000ff" stroke-linecap="round">
<path d="M151.7,524.3H157.0M177.0,524.3H184.9" stroke-width="5.4"/>
<path d="M160.2,574.7h1.8M172.2,574.7h1.8M183.7,574.7h1.8" stroke-width="5.4"/>
</g>
<g font-family="Liberation Serif, serif" fill="#000" opacity="0.999">
<text transform="translate(94.80,768.08) scale(0.3008,0.3090)" font-size="100" stroke="#fff" stroke-width="1.15">0.6</text>
<text transform="translate(247.29,768.08) scale(0.3034,0.3090)" font-size="100" stroke="#fff" stroke-width="1.14">0.8</text>
<text transform="translate(399.08,768.09) scale(0.3134,0.3044)" font-size="100" stroke="#fff" stroke-width="1.13">1.0</text>
<text transform="translate(551.80,768.19) scale(0.3109,0.3060)" font-size="100" stroke="#fff" stroke-width="1.13">1.2</text>
<text transform="translate(704.21,768.00) scale(0.3096,0.3030)" font-size="100" stroke="#fff" stroke-width="1.14">1.4</text>
<g transform="rotate(-90)">
<text transform="translate(-269.65,76.89) scale(0.2943,0.3059)" font-size="100" stroke="#fff" stroke-width="1.17">10</text>
<rect x="-238.1" y="59.9" width="13.2" height="2.1"/>
<text transform="translate(-222.05,66.00) scale(0.2057,0.2061)" font-size="100" stroke="#fff" stroke-width="1.70">1</text>
<text transform="translate(-561.54,76.89) scale(0.2931,0.3059)" font-size="100" stroke="#fff" stroke-width="1.17">10</text>
<rect x="-529.7" y="59.9" width="12.7" height="2.1"/>
<text transform="translate(-514.01,66.00) scale(0.2275,0.2123)" font-size="100" stroke="#fff" stroke-width="1.59">2</text>
<text transform="translate(-487.16,35.40) scale(0.3416,0.3262)" font-size="100" stroke="#fff" stroke-width="1.05" font-style="italic">M</text>
<text transform="translate(-461.31,39.90) scale(0.2514,0.2042)" font-size="100" stroke="#fff" stroke-width="1.54">env</text>
<text transform="translate(-410.38,35.66) scale(0.2962,0.3400)" font-size="100" stroke="#fff" stroke-width="1.10">(</text>
<text transform="translate(-399.46,35.40) scale(0.3404,0.3262)" font-size="100" stroke="#fff" stroke-width="1.05" font-style="italic">M</text>
<circle cx="-362.7" cy="34.15" r="7.35" fill="none" stroke="#000" stroke-width="1.2"/><circle cx="-362.7" cy="34.15" r="1.65"/>
<text transform="translate(-351.23,35.66) scale(0.2769,0.3400)" font-size="100" stroke="#fff" stroke-width="1.13">)</text>
</g>
<text transform="translate(355.54,802.20) scale(0.3416,0.3262)" font-size="100" stroke="#fff" stroke-width="1.05" font-style="italic">M</text>
<text transform="translate(382.61,806.77) scale(0.2625,0.2250)" font-size="100" stroke="#fff" stroke-width="1.44" font-style="italic">c</text>
<text transform="translate(406.02,802.46) scale(0.2962,0.3400)" font-size="100" stroke="#fff" stroke-width="1.10">(</text>
<text transform="translate(417.64,802.20) scale(0.3416,0.3262)" font-size="100" stroke="#fff" stroke-width="1.05" font-style="italic">M</text>
<circle cx="454.1" cy="801.2" r="7.35" fill="none" stroke="#000" stroke-width="1.2"/><circle cx="454.1" cy="801.2" r="1.65"/>
<text transform="translate(465.01,802.46) scale(0.2962,0.3400)" font-size="100" stroke="#fff" stroke-width="1.10">)</text>
<text transform="translate(317.46,181.00) scale(0.3209,0.2831)" font-size="100" stroke="#fff" stroke-width="1.16" font-style="italic">X</text>
<text transform="translate(337.57,184.90) scale(0.2174,0.1892)" font-size="100" stroke="#fff" stroke-width="1.72">4</text>
<rect x="358.6" y="170.7" width="17.6" height="1.25"/><rect x="358.6" y="176.8" width="17.6" height="1.25"/>
<text transform="translate(385.19,181.04) scale(0.2769,0.2806)" font-size="100" stroke="#fff" stroke-width="1.26">0.8</text>
<text transform="translate(420.51,181.14) scale(0.2733,0.3240)" font-size="100" stroke="#fff" stroke-width="1.17">,</text>
<text transform="translate(434.56,181.00) scale(0.3194,0.2831)" font-size="100" stroke="#fff" stroke-width="1.16" font-style="italic">X</text>
<text transform="translate(454.00,184.90) scale(0.2224,0.1879)" font-size="100" stroke="#fff" stroke-width="1.71">12</text>
<rect x="485.9" y="170.7" width="17.7" height="1.25"/><rect x="485.9" y="176.8" width="17.7" height="1.25"/>
<text transform="translate(512.38,180.76) scale(0.2791,0.2721)" font-size="100" stroke="#fff" stroke-width="1.27">0.1</text>
<text transform="translate(548.41,181.14) scale(0.2733,0.3240)" font-size="100" stroke="#fff" stroke-width="1.17">,</text>
<text transform="translate(561.17,181.00) scale(0.3224,0.2831)" font-size="100" stroke="#fff" stroke-width="1.16" font-style="italic">X</text>
<text transform="translate(581.40,184.73) scale(0.2114,0.1853)" font-size="100" stroke="#fff" stroke-width="1.76">16</text>
<rect x="612.8" y="170.7" width="18.1" height="1.25"/><rect x="612.8" y="176.8" width="18.1" height="1.25"/>
<text transform="translate(639.70,180.76) scale(0.2757,0.2721)" font-size="100" stroke="#fff" stroke-width="1.28">0.1</text>
<text transform="translate(212.17,523.10) scale(0.1674,0.1446)" font-size="100" stroke="#fff" stroke-width="2.24">4</text>
<text transform="translate(221.60,531.27) scale(0.2345,0.2303)" font-size="100" stroke="#fff" stroke-width="1.51">He</text>
<path d="M269.8,517.7L256.6,524.8L269.8,531.8" fill="none" stroke="#000" stroke-width="1.1"/>
<text transform="translate(277.42,532.24) scale(0.2199,0.2806)" font-size="100" stroke="#fff" stroke-width="1.40">25%</text>
<text transform="translate(212.17,573.20) scale(0.1674,0.1446)" font-size="100" stroke="#fff" stroke-width="2.24">4</text>
<text transform="translate(221.60,581.37) scale(0.2345,0.2303)" font-size="100" stroke="#fff" stroke-width="1.51">He</text>
<path d="M269.8,567.8L256.6,574.9L269.8,581.9" fill="none" stroke="#000" stroke-width="1.1"/>
<text transform="translate(276.97,582.34) scale(0.2224,0.2806)" font-size="100" stroke="#fff" stroke-width="1.39">50%</text>
</g>
</svg>
</body></html>
